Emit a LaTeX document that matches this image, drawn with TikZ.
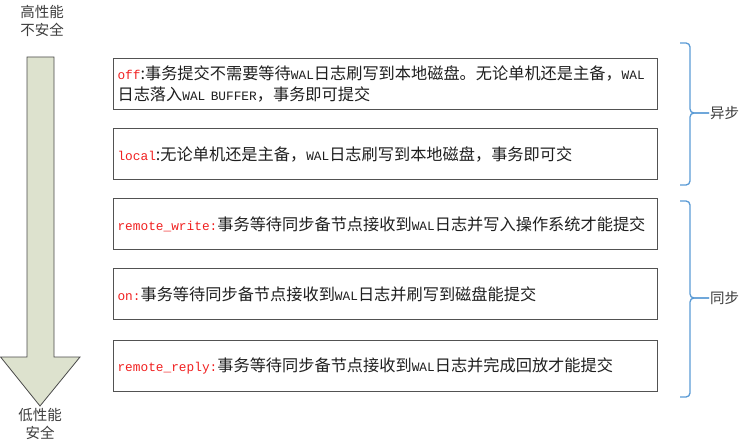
\documentclass[tikz,border=0pt]{standalone}
\usepackage{fontspec}
\setmainfont{Noto Sans CJK SC}
\setmonofont{Liberation Mono}[Scale=0.79]
\usepackage{xcolor}
\usepackage{tikz}
\usetikzlibrary{positioning}
\definecolor{ModeKey}{HTML}{F02020}
\definecolor{ModeText}{HTML}{1E1E1E}
\definecolor{ArrowFill}{HTML}{DDE2CE}
\definecolor{ArrowLine}{HTML}{4A4A4A}
\definecolor{BraceBlue}{HTML}{5B9BD5}
\definecolor{SideText}{HTML}{3C3C3C}
\newcommand\modekey[1]{\textcolor{ModeKey}{\texttt{#1}}}
\tikzset{
  commit box/.style={
    draw=black!68, line width=1.1pt, anchor=north west,
    text width=536pt, minimum height=51pt, inner xsep=4pt,
    align=left, font=\fontsize{16.2}{20.5}\selectfont, text=ModeText
  },
  commit side/.style={
    align=center, inner sep=1pt, text=SideText,
    font=\fontsize{14.5}{18}\selectfont
  },
  commit brace/.style={
    draw=BraceBlue, line width=1.3pt, rounded corners=4pt
  }
}

\begin{document}
\begin{tikzpicture}[x=1pt, y=-1pt]
  \useasboundingbox (0,0) rectangle (743,443);

  \node[commit side] (fast) at (42,21) {高性能\\不安全};
  \node[commit side] (safe) at (40,424) {低性能\\安全};

  \filldraw[fill=ArrowFill, draw=ArrowLine, line width=0.8pt]
    (27,57) -- (54,57) -- (54,357) -- (80,357) -- (40,406)
    -- (0.6,357) -- (27,357) -- cycle;

  \node[commit box] (off) at (113,58)
    {\modekey{off}:事务提交不需要等待\texttt{WAL}日志刷写到本地磁盘。无论单机还是主备，\texttt{WAL}\\
     日志落入\texttt{WAL BUFFER}，事务即可提交};
  \node[commit box] (local) at (113,128)
    {\modekey{local}:无论单机还是主备，\texttt{WAL}日志刷写到本地磁盘，事务即可交};
  \node[commit box] (rwrite) at (113,198)
    {\modekey{remote\_write:}事务等待同步备节点接收到\texttt{WAL}日志并写入操作系统才能提交};
  \node[commit box] (on) at (113,268)
    {\modekey{on:}事务等待同步备节点接收到\texttt{WAL}日志并刷写到磁盘能提交};
  \node[commit box] (rreply) at (113,340)
    {\modekey{remote\_reply:}事务等待同步备节点接收到\texttt{WAL}日志并完成回放才能提交};

  \node[commit side, anchor=west] (async) at (709,113) {异步};
  \node[commit side, anchor=west] (sync) at (709,298) {同步};

  \draw[commit brace] (680,43) -- (690,43) -- (690,113) -- (async.west);
  \draw[commit brace] (680,185) -- (690,185) -- (690,113) -- (async.west);
  \draw[commit brace] (680,201) -- (690,201) -- (690,298) -- (sync.west);
  \draw[commit brace] (680,397) -- (690,397) -- (690,298) -- (sync.west);
\end{tikzpicture}
\end{document}
